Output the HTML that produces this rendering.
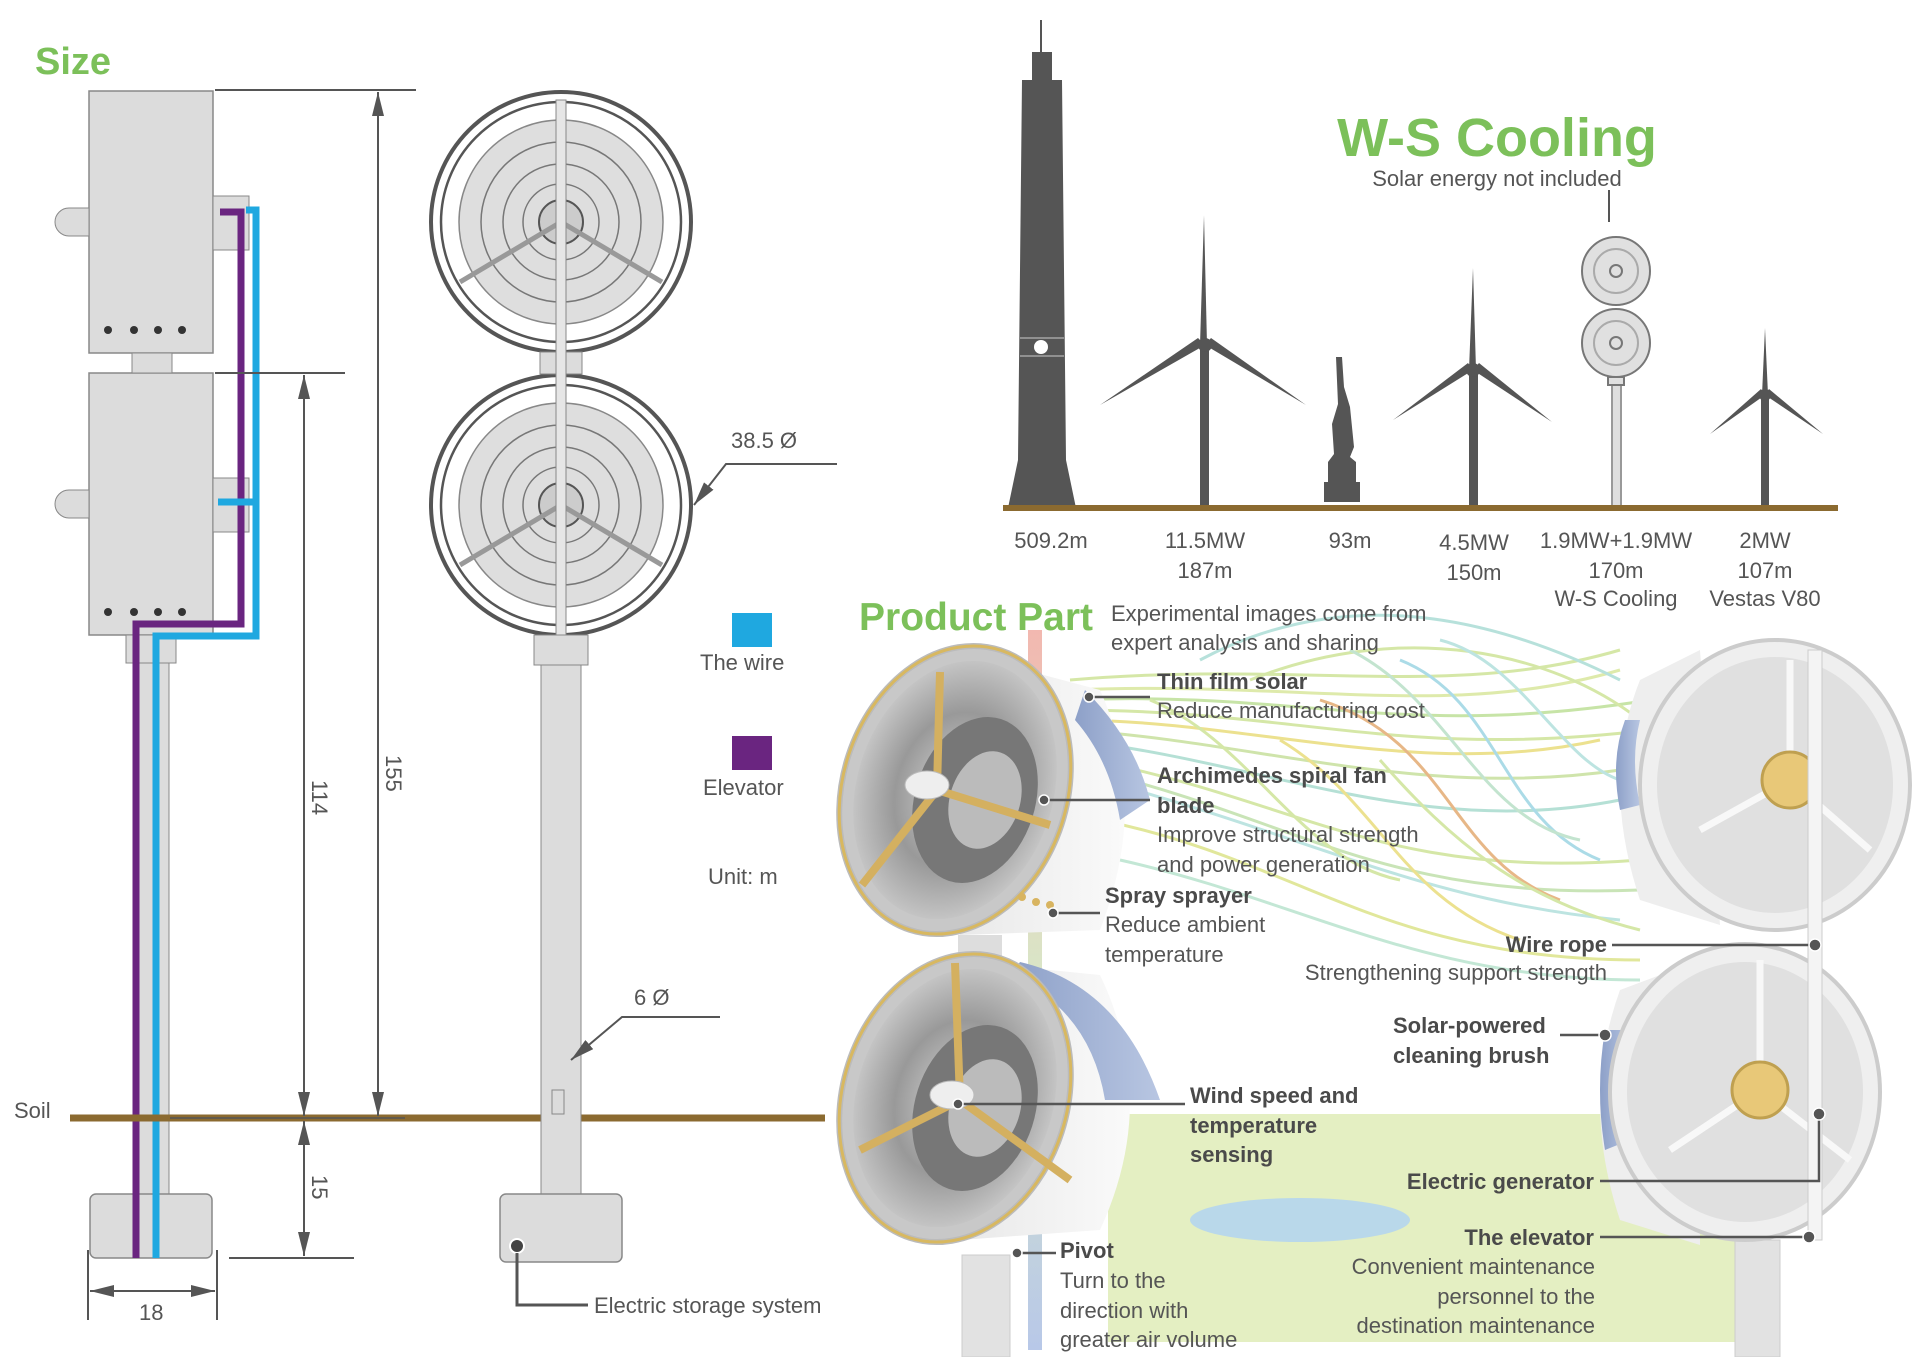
<!DOCTYPE html>
<html><head><meta charset="utf-8"><style>
html,body{margin:0;padding:0;background:#fff;}
svg{display:block;}
text{font-family:"Liberation Sans",sans-serif;}
.t{fill:#555;font-size:22px;}
.b{fill:#4a4a4a;font-size:22px;font-weight:bold;}
.g{fill:#7cc05a;font-weight:bold;}
</style></head><body>
<svg width="1920" height="1357" viewBox="0 0 1920 1357" xmlns="http://www.w3.org/2000/svg">
<defs>
<marker id="ar" viewBox="0 0 24 12" refX="24" refY="6" markerWidth="24" markerHeight="12" orient="auto-start-reverse" markerUnits="userSpaceOnUse"><path d="M0,0 L24,6 L0,12 z" fill="#555"/></marker>
<radialGradient id="fanin" cx="0.5" cy="0.5" r="0.5"><stop offset="0" stop-color="#d4d4d4"/><stop offset="0.6" stop-color="#999"/><stop offset="1" stop-color="#c4c4c4"/></radialGradient>
<linearGradient id="body" x1="0" x2="1"><stop offset="0" stop-color="#e8e8e8"/><stop offset="1" stop-color="#fafafa"/></linearGradient>
<linearGradient id="solar" x1="0" x2="1"><stop offset="0" stop-color="#8da0c8"/><stop offset="1" stop-color="#b8c6e2"/></linearGradient>
<linearGradient id="scale" x1="0" y1="0" x2="0" y2="1"><stop offset="0" stop-color="#f2b8b0"/><stop offset="0.5" stop-color="#d8e8c8"/><stop offset="1" stop-color="#b8c8e8"/></linearGradient>
</defs>

<text x="35" y="74" class="g" font-size="38">Size</text>

<rect x="89" y="91" width="124" height="262" fill="#dcdcdc" stroke="#888" stroke-width="1.5"/>
<rect x="89" y="373" width="124" height="262" fill="#dcdcdc" stroke="#888" stroke-width="1.5"/>
<rect x="132" y="353" width="40" height="20" fill="#dcdcdc" stroke="#888"/>
<path d="M89,208 h-20 a14,14 0 0 0 0,28 h20 z" fill="#dcdcdc" stroke="#888"/>
<path d="M89,490 h-20 a14,14 0 0 0 0,28 h20 z" fill="#dcdcdc" stroke="#888"/>
<rect x="213" y="196" width="36" height="54" fill="#dcdcdc" stroke="#888"/>
<rect x="213" y="478" width="36" height="54" fill="#dcdcdc" stroke="#888"/>
<g fill="#333"><circle cx="108" cy="330" r="4"/><circle cx="134" cy="330" r="4"/><circle cx="158" cy="330" r="4"/><circle cx="182" cy="330" r="4"/>
<circle cx="108" cy="612" r="4"/><circle cx="134" cy="612" r="4"/><circle cx="158" cy="612" r="4"/><circle cx="182" cy="612" r="4"/></g>
<rect x="126" y="635" width="50" height="28" fill="#dcdcdc" stroke="#888"/>
<rect x="135" y="663" width="34" height="531" fill="#dcdcdc" stroke="#888"/>
<rect x="90" y="1194" width="122" height="64" rx="6" fill="#dcdcdc" stroke="#888" stroke-width="1.5"/>
<polyline points="136,1258 136,624 241,624 241,212 220,212" fill="none" stroke="#6a2580" stroke-width="7"/>
<polyline points="156,1258 156,636 256,636 256,210 246,210" fill="none" stroke="#1fa8e0" stroke-width="7"/>
<line x1="218" y1="502" x2="256" y2="502" stroke="#1fa8e0" stroke-width="7"/>

<line x1="70" y1="1118" x2="825" y2="1118" stroke="#8b6a30" stroke-width="7"/>
<text x="14" y="1118" class="t" font-size="25">Soil</text>

<g stroke="#555" stroke-width="2" fill="none">
<line x1="215" y1="90" x2="416" y2="90"/>
<line x1="378" y1="92" x2="378" y2="1116" marker-start="url(#ar)" marker-end="url(#ar)"/>
<line x1="215" y1="373" x2="345" y2="373"/>
<line x1="304" y1="375" x2="304" y2="1116" marker-start="url(#ar)" marker-end="url(#ar)"/>
<line x1="170" y1="1118" x2="405" y2="1118" stroke-width="1.5"/>
<line x1="304" y1="1121" x2="304" y2="1256" marker-start="url(#ar)" marker-end="url(#ar)"/>
<line x1="229" y1="1258" x2="354" y2="1258"/>
<line x1="88" y1="1250" x2="88" y2="1320"/>
<line x1="217" y1="1250" x2="217" y2="1320"/>
<line x1="90" y1="1291" x2="215" y2="1291" marker-start="url(#ar)" marker-end="url(#ar)"/>
</g>
<text x="0" y="0" class="t" font-size="24" transform="translate(386,755) rotate(90)">155</text>
<text x="0" y="0" class="t" font-size="24" transform="translate(312,780) rotate(90)">114</text>
<text x="0" y="0" class="t" font-size="24" transform="translate(312,1175) rotate(90)">15</text>
<text x="139" y="1320" class="t" font-size="24">18</text>

<g stroke="#555" fill="none">
<circle cx="561" cy="222" r="130" stroke-width="4" fill="#fff"/>
<circle cx="561" cy="222" r="120" stroke-width="2.5"/>
<circle cx="561" cy="505" r="130" stroke-width="4" fill="#fff"/>
<circle cx="561" cy="505" r="120" stroke-width="2.5"/>
</g>
<g fill="#dedede" stroke="#888" stroke-width="1.5">
<circle cx="561" cy="222" r="102"/>
<circle cx="561" cy="505" r="102"/>
</g>
<g fill="none" stroke="#777" stroke-width="1.5">
<circle cx="561" cy="222" r="80"/><circle cx="561" cy="222" r="58"/><circle cx="561" cy="222" r="38"/>
<circle cx="561" cy="505" r="80"/><circle cx="561" cy="505" r="58"/><circle cx="561" cy="505" r="38"/>
</g>
<g fill="#ccc" stroke="#555" stroke-width="2">
<circle cx="561" cy="222" r="22"/><circle cx="561" cy="505" r="22"/>
</g>
<g stroke="#999" stroke-width="5">
<line x1="561" y1="222" x2="460" y2="282"/><line x1="561" y1="222" x2="662" y2="282"/>
<line x1="561" y1="505" x2="460" y2="565"/><line x1="561" y1="505" x2="662" y2="565"/>
</g>
<rect x="540" y="352" width="42" height="22" fill="#dcdcdc" stroke="#888"/>
<rect x="556" y="100" width="10" height="535" fill="#e6e6e6" stroke="#888"/>
<rect x="534" y="635" width="54" height="30" fill="#dcdcdc" stroke="#888"/>
<rect x="541" y="665" width="40" height="529" fill="#dcdcdc" stroke="#888"/>
<rect x="552" y="1090" width="12" height="24" fill="none" stroke="#888"/>
<rect x="500" y="1194" width="122" height="68" rx="6" fill="#dcdcdc" stroke="#888" stroke-width="1.5"/>
<circle cx="517" cy="1246" r="7" fill="#444" stroke="#fff" stroke-width="2"/>
<polyline points="517,1253 517,1305 588,1305" fill="none" stroke="#555" stroke-width="3"/>
<text x="594" y="1313" class="t" font-size="26">Electric storage system</text>

<g stroke="#555" stroke-width="2" fill="none">
<polyline points="837,464 726,464 694,505" marker-end="url(#ar)"/>
<polyline points="720,1017 622,1017 571,1060" marker-end="url(#ar)"/>
</g>
<text x="731" y="448" class="t" font-size="25">38.5 Ø</text>
<text x="634" y="1005" class="t" font-size="25">6 Ø</text>

<rect x="732" y="613" width="40" height="34" fill="#1fa8e0"/>
<text x="700" y="670" class="t" font-size="25">The wire</text>
<rect x="732" y="736" width="40" height="34" fill="#6a2580"/>
<text x="703" y="795" class="t" font-size="25">Elevator</text>
<text x="708" y="884" class="t" font-size="25">Unit: m</text>

<text x="1497" y="156" class="g" font-size="54" text-anchor="middle">W-S Cooling</text>
<text x="1497" y="186" class="t" font-size="23" text-anchor="middle">Solar energy not included</text>
<line x1="1609" y1="190" x2="1609" y2="222" stroke="#555" stroke-width="2"/>

<g fill="#555">
<path d="M1040,20 h2 v34 h-2 z"/>
<path d="M1032,52 h20 v30 h-20 z"/>
<path d="M1022,80 h40 l4,380 l10,48 h-68 l10,-48 z"/>
</g>
<circle cx="1041" cy="347" r="7" fill="#fff"/>
<line x1="1020" y1="338" x2="1064" y2="338" stroke="#ccc"/>
<line x1="1020" y1="356" x2="1064" y2="356" stroke="#ccc"/>
<g fill="#555">
<rect x="1200" y="345" width="9" height="162"/>
<path d="M1204,215 l3,130 h-7 z"/>
<path d="M1205,345 L1100,405 L1198,338 z"/>
<path d="M1205,345 L1306,405 L1211,338 z"/>
<circle cx="1205" cy="345" r="7"/>
<rect x="1469" y="370" width="9" height="137"/>
<path d="M1473,268 l3,102 h-7 z"/>
<path d="M1473,370 L1393,420 L1468,363 z"/>
<path d="M1473,370 L1552,422 L1479,363 z"/>
<circle cx="1473" cy="370" r="7"/>
<rect x="1761" y="395" width="8" height="112"/>
<path d="M1765,328 l3,67 h-6 z"/>
<path d="M1765,395 L1710,434 L1761,389 z"/>
<path d="M1765,395 L1823,434 L1769,389 z"/>
<circle cx="1765" cy="395" r="6"/>
<path d="M1336,357 h6 l2,30 l6,20 l4,40 l-4,10 l6,5 v20 h4 v20 h-36 v-20 h4 v-20 l6,-8 l-2,-30 l6,-20 z"/>
</g>
<g fill="#e0e0e0" stroke="#777" stroke-width="2">
<rect x="1612" y="380" width="9" height="127" fill="#dedede" stroke="#999"/>
<circle cx="1616" cy="271" r="34"/><circle cx="1616" cy="343" r="34"/>
<circle cx="1616" cy="271" r="22" fill="none" stroke="#aaa"/><circle cx="1616" cy="343" r="22" fill="none" stroke="#aaa"/>
<circle cx="1616" cy="271" r="6"/><circle cx="1616" cy="343" r="6"/>
<rect x="1608" y="377" width="16" height="8"/>
</g>
<line x1="1003" y1="508" x2="1838" y2="508" stroke="#8b6a30" stroke-width="6"/>
<g class="t" font-size="22" text-anchor="middle">
<text x="1051" y="548" class="t">509.2m</text>
<text x="1205" y="548" class="t">11.5MW</text><text x="1205" y="578" class="t">187m</text>
<text x="1350" y="548" class="t">93m</text>
<text x="1474" y="550" class="t">4.5MW</text><text x="1474" y="580" class="t">150m</text>
<text x="1616" y="548" class="t">1.9MW+1.9MW</text><text x="1616" y="578" class="t">170m</text><text x="1616" y="606" class="t">W-S Cooling</text>
<text x="1765" y="548" class="t">2MW</text><text x="1765" y="578" class="t">107m</text><text x="1765" y="606" class="t">Vestas V80</text>
</g>

<rect x="1108" y="1114" width="640" height="228" fill="#e4efc2"/>
<ellipse cx="1300" cy="1220" rx="110" ry="22" fill="#b9d8ea"/>
<rect x="1028" y="630" width="14" height="720" fill="url(#scale)"/>
<g fill="none" stroke-width="3" opacity="0.75">
<path d="M1070,680 C1300,660 1450,700 1620,650" stroke="#c8e08a"/>
<path d="M1070,690 C1300,680 1450,720 1620,670" stroke="#d4e490"/>
<path d="M1070,700 C1300,690 1400,740 1650,700" stroke="#b5dc8a"/>
<path d="M1070,710 C1300,710 1400,760 1650,730" stroke="#c8e08a"/>
<path d="M1070,720 C1250,720 1420,780 1600,740" stroke="#e6d86a"/>
<path d="M1070,730 C1250,740 1420,800 1620,770" stroke="#c0dc90"/>
<path d="M1070,740 C1260,760 1420,840 1620,800" stroke="#9dd6c8"/>
<path d="M1090,760 C1300,800 1380,880 1640,860" stroke="#c8e08a"/>
<path d="M1090,770 C1300,820 1380,900 1640,890" stroke="#b8dca0"/>
<path d="M1100,780 C1320,840 1420,900 1620,920" stroke="#a8dcd8"/>
<path d="M1100,820 C1300,860 1380,960 1640,960" stroke="#d8e07a"/>
<path d="M1120,860 C1300,900 1420,980 1640,980" stroke="#b0e0c8"/>
<path d="M1200,660 C1350,580 1500,620 1620,680" stroke="#a0d8d0"/>
<path d="M1250,680 C1400,620 1550,650 1640,720" stroke="#c8e08a"/>
<path d="M1320,700 C1450,740 1450,860 1560,900" stroke="#e0a060"/>
<path d="M1280,740 C1380,800 1400,900 1520,940" stroke="#e6d86a"/>
<path d="M1400,660 C1500,700 1500,820 1600,860" stroke="#90d0e0"/>
<path d="M1150,700 C1250,740 1300,860 1400,880" stroke="#c8e08a"/>
<path d="M1440,640 C1520,660 1560,760 1620,780" stroke="#a8dcd8"/>
<path d="M1350,650 C1450,700 1480,820 1580,840" stroke="#b0dcc0"/>
<path d="M1380,760 C1450,840 1520,900 1640,930" stroke="#c8e08a"/>
</g>

<path d="M950,650 L1100,690 Q1150,800 1100,930 L960,935 Z" fill="url(#body)"/>
<path d="M1085,690 Q1135,740 1150,800 L1120,820 Q1110,760 1075,720 Z" fill="url(#solar)"/>
<ellipse cx="955" cy="790" rx="112" ry="147" transform="rotate(18 955 790)" fill="#c8c8c8" stroke="#bbb" stroke-width="6"/>
<ellipse cx="955" cy="790" rx="98" ry="132" transform="rotate(18 955 790)" fill="url(#fanin)"/>
<ellipse cx="975" cy="800" rx="60" ry="85" transform="rotate(18 975 800)" fill="#777"/>
<ellipse cx="985" cy="800" rx="35" ry="50" transform="rotate(18 985 800)" fill="#bbb"/>
<ellipse cx="955" cy="790" rx="112" ry="147" transform="rotate(18 955 790)" fill="none" stroke="#d8b860" stroke-width="3"/>
<g stroke="#d4b060" stroke-width="8"><line x1="937" y1="790" x2="940" y2="672"/><line x1="937" y1="790" x2="1050" y2="825"/><line x1="937" y1="790" x2="862" y2="885"/></g>
<ellipse cx="927" cy="785" rx="22" ry="14" fill="#eee" stroke="#bbb"/>
<g fill="#d8b460"><circle cx="1022" cy="897" r="4"/><circle cx="1036" cy="902" r="4"/><circle cx="1050" cy="905" r="4"/></g>
<rect x="958" y="935" width="44" height="30" fill="#ddd"/>
<path d="M950,960 L1100,975 Q1160,1100 1100,1230 L960,1240 Z" fill="url(#body)"/>
<path d="M1020,962 Q1120,985 1160,1100 L1105,1100 Q1090,1010 1010,975 Z" fill="url(#solar)"/>
<ellipse cx="955" cy="1098" rx="112" ry="147" transform="rotate(18 955 1098)" fill="#c8c8c8" stroke="#bbb" stroke-width="6"/>
<ellipse cx="955" cy="1098" rx="98" ry="132" transform="rotate(18 955 1098)" fill="url(#fanin)"/>
<ellipse cx="975" cy="1108" rx="60" ry="85" transform="rotate(18 975 1108)" fill="#777"/>
<ellipse cx="985" cy="1108" rx="35" ry="50" transform="rotate(18 985 1108)" fill="#bbb"/>
<ellipse cx="955" cy="1098" rx="112" ry="147" transform="rotate(18 955 1098)" fill="none" stroke="#d8b860" stroke-width="3"/>
<g stroke="#d4b060" stroke-width="8"><line x1="960" y1="1100" x2="955" y2="963"/><line x1="960" y1="1100" x2="1070" y2="1180"/><line x1="960" y1="1100" x2="860" y2="1150"/></g>
<ellipse cx="952" cy="1095" rx="22" ry="14" fill="#eee" stroke="#bbb"/>
<rect x="962" y="1255" width="48" height="102" fill="#e2e2e2" stroke="#ccc"/>

<rect x="1735" y="1240" width="45" height="117" fill="#e2e2e2" stroke="#ccc"/>
<path d="M1700,650 L1640,680 Q1600,780 1640,900 L1720,925 Z" fill="#eee"/>
<path d="M1700,960 L1620,990 Q1580,1100 1620,1220 L1700,1245 Z" fill="#eee"/>
<path d="M1625,720 Q1610,760 1620,810 L1640,805 Q1630,760 1640,720 Z" fill="url(#solar)"/>
<path d="M1605,1030 Q1595,1090 1605,1150 L1630,1140 Q1620,1090 1632,1030 Z" fill="url(#solar)"/>
<ellipse cx="1775" cy="785" rx="135" ry="145" fill="#efefef" stroke="#ccc" stroke-width="4"/>
<ellipse cx="1775" cy="785" rx="118" ry="128" fill="#e0e0e0"/>
<ellipse cx="1745" cy="1092" rx="135" ry="148" fill="#efefef" stroke="#ccc" stroke-width="4"/>
<ellipse cx="1745" cy="1092" rx="118" ry="130" fill="#e0e0e0"/>
<g stroke="#f8f8f8" stroke-width="7">
<line x1="1790" y1="780" x2="1700" y2="830"/><line x1="1790" y1="780" x2="1870" y2="850"/><line x1="1790" y1="780" x2="1790" y2="660"/>
<line x1="1760" y1="1090" x2="1670" y2="1150"/><line x1="1760" y1="1090" x2="1850" y2="1160"/><line x1="1760" y1="1090" x2="1760" y2="960"/>
</g>
<circle cx="1790" cy="780" r="28" fill="#e8c878" stroke="#bfa050" stroke-width="3"/>
<circle cx="1760" cy="1090" r="28" fill="#e8c878" stroke="#bfa050" stroke-width="3"/>
<rect x="1808" y="650" width="14" height="590" fill="#f4f4f4" stroke="#ccc"/>

<text x="859" y="630" class="g" font-size="39">Product Part</text>
<text x="1111" y="621" class="t" font-size="23">Experimental images come from</text>
<text x="1111" y="650" class="t" font-size="23">expert analysis and sharing</text>

<g stroke="#555" stroke-width="2.5" fill="none">
<line x1="1089" y1="697" x2="1150" y2="697"/>
<line x1="1044" y1="800" x2="1150" y2="800"/>
<line x1="1053" y1="913" x2="1100" y2="913"/>
<line x1="1612" y1="945" x2="1815" y2="945"/>
<line x1="1560" y1="1035" x2="1605" y2="1035"/>
<line x1="958" y1="1104" x2="1185" y2="1104"/>
<polyline points="1600,1181 1819,1181 1819,1114"/>
<line x1="1600" y1="1237" x2="1809" y2="1237"/>
<line x1="1017" y1="1253" x2="1056" y2="1253"/>
</g>
<g fill="#555" stroke="#fff" stroke-width="1.5">
<circle cx="1089" cy="697" r="5"/><circle cx="1044" cy="800" r="5"/><circle cx="1053" cy="913" r="5"/>
<circle cx="1815" cy="945" r="6"/><circle cx="1605" cy="1035" r="6"/><circle cx="958" cy="1104" r="5"/>
<circle cx="1819" cy="1114" r="6"/><circle cx="1809" cy="1237" r="6"/><circle cx="1017" cy="1253" r="5"/>
</g>

<text x="1157" y="689" class="b">Thin film solar</text>
<text x="1157" y="718" class="t">Reduce manufacturing cost</text>
<text x="1157" y="783" class="b">Archimedes spiral fan</text>
<text x="1157" y="813" class="b">blade</text>
<text x="1157" y="842" class="t">Improve structural strength</text>
<text x="1157" y="872" class="t">and power generation</text>
<text x="1105" y="903" class="b">Spray sprayer</text>
<text x="1105" y="932" class="t">Reduce ambient</text>
<text x="1105" y="962" class="t">temperature</text>
<text x="1607" y="952" class="b" text-anchor="end">Wire rope</text>
<text x="1607" y="980" class="t" text-anchor="end">Strengthening support strength</text>
<text x="1393" y="1033" class="b">Solar-powered</text>
<text x="1393" y="1063" class="b">cleaning brush</text>
<text x="1190" y="1103" class="b">Wind speed and</text>
<text x="1190" y="1133" class="b">temperature</text>
<text x="1190" y="1162" class="b">sensing</text>
<text x="1594" y="1189" class="b" text-anchor="end">Electric generator</text>
<text x="1594" y="1245" class="b" text-anchor="end">The elevator</text>
<text x="1595" y="1274" class="t" text-anchor="end">Convenient maintenance</text>
<text x="1595" y="1304" class="t" text-anchor="end">personnel to the</text>
<text x="1595" y="1333" class="t" text-anchor="end">destination maintenance</text>
<text x="1060" y="1258" class="b">Pivot</text>
<text x="1060" y="1288" class="t">Turn to the</text>
<text x="1060" y="1318" class="t">direction with</text>
<text x="1060" y="1347" class="t">greater air volume</text>
</svg>
</body></html>
